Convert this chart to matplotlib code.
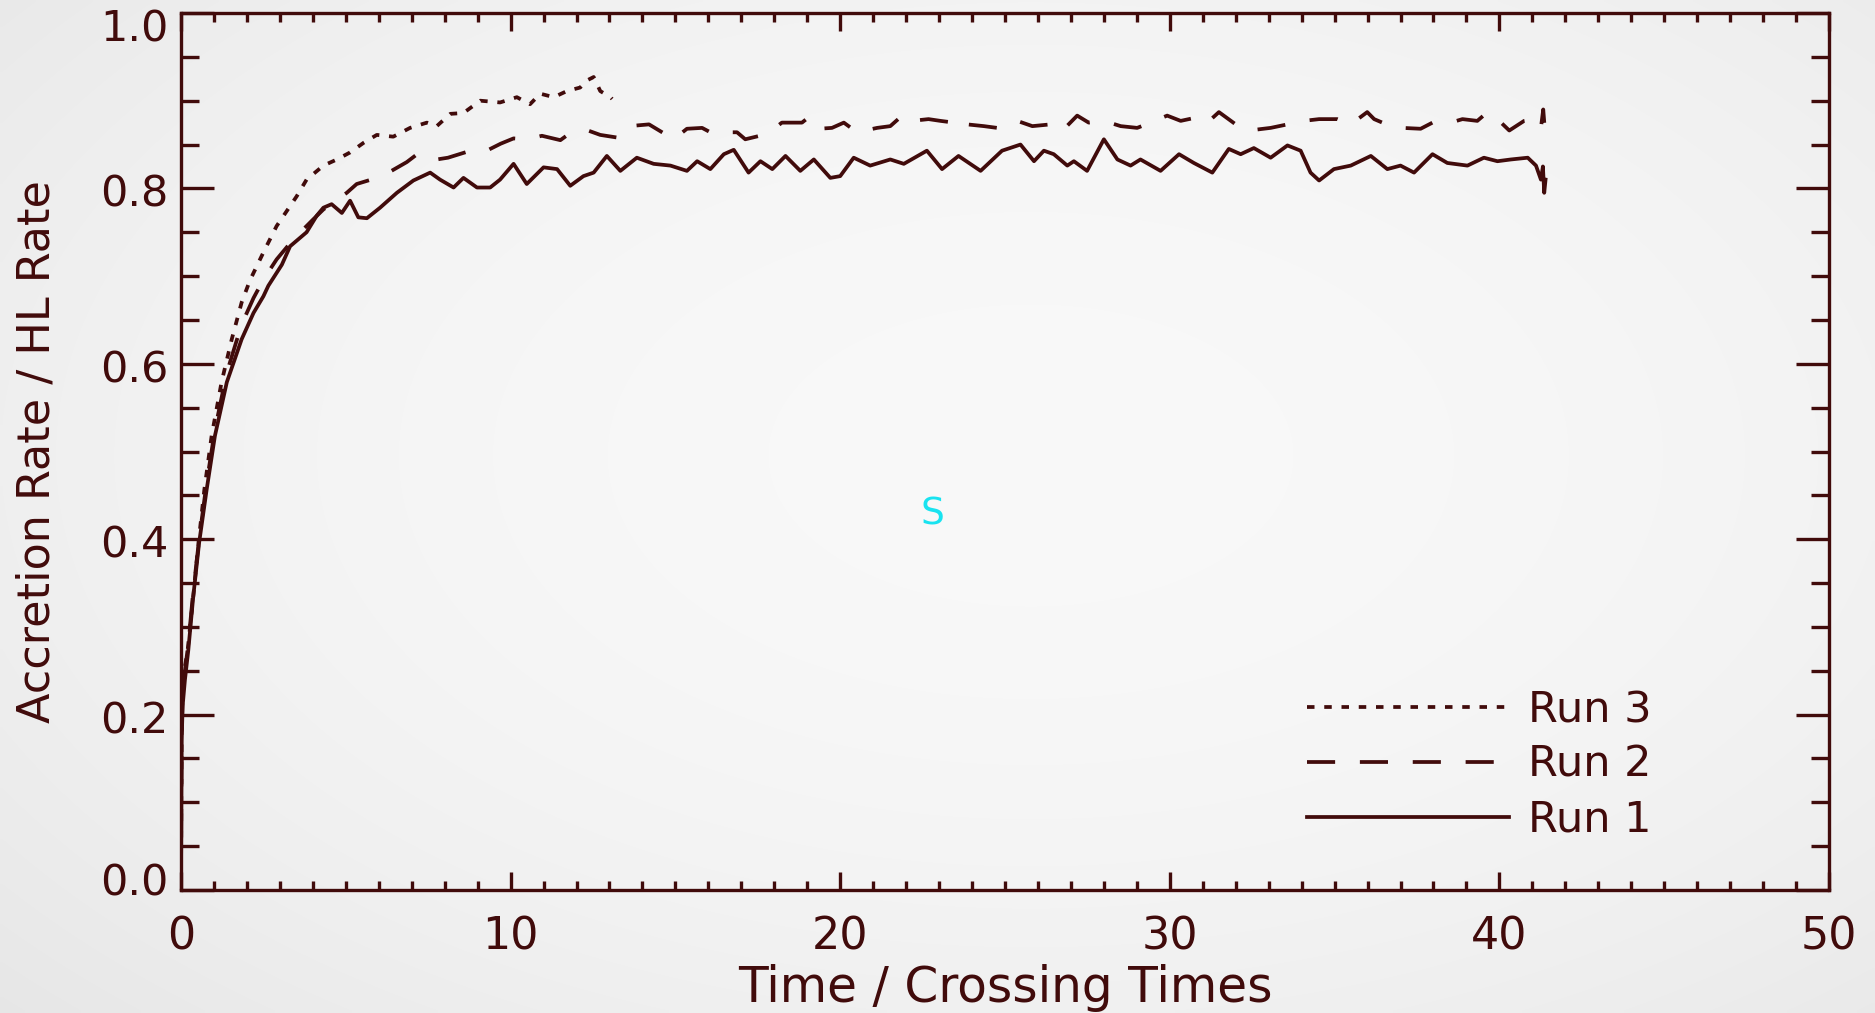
import numpy as np
import matplotlib
matplotlib.use("Agg")
import matplotlib.pyplot as plt
import matplotlib.transforms as mtransforms

# ---------------- data ----------------
run1_t = [0.0, 0.01, 0.02, 0.05, 0.12, 0.22, 0.37, 0.55, 0.78, 1.03, 1.39, 1.84, 2.2, 2.5,
          2.65, 3.06, 3.31, 3.81, 4.12, 4.32, 4.57, 4.88, 5.13, 5.38, 5.64, 6.04, 6.55,
          7.05, 7.56, 7.86, 8.27, 8.57, 8.98, 9.38, 9.68, 10.09, 10.49, 11.0, 11.41, 11.81,
          12.21, 12.52, 12.92, 13.33, 13.83, 14.34, 14.85, 15.35, 15.66, 16.06, 16.47,
          16.77, 17.22, 17.58, 17.94, 18.34, 18.79, 19.2, 19.7, 20.0, 20.41, 20.91, 21.52,
          21.93, 22.63, 23.09, 23.59, 24.26, 24.91, 25.47, 25.88, 26.18, 26.48, 26.89,
          27.09, 27.49, 28.0, 28.41, 28.81, 29.11, 29.72, 30.28, 30.73, 31.29, 31.79,
          32.15, 32.55, 33.06, 33.57, 33.97, 34.27, 34.53, 34.98, 35.49, 36.1, 36.6, 37.0,
          37.41, 37.97, 38.42, 39.03, 39.53, 39.94, 40.35, 40.86, 41.11, 41.26, 41.32,
          41.36, 41.4]
run1_y = [0.0, 0.10, 0.17, 0.21, 0.24, 0.273, 0.334, 0.396, 0.457, 0.518, 0.579, 0.628, 0.658,
          0.677, 0.689, 0.713, 0.734, 0.750, 0.769, 0.778, 0.782, 0.772, 0.786, 0.767, 0.766,
          0.778, 0.795, 0.809, 0.818, 0.810, 0.801, 0.812, 0.801, 0.801, 0.810, 0.828, 0.805,
          0.824, 0.822, 0.803, 0.814, 0.818, 0.837, 0.820, 0.835, 0.828, 0.826, 0.820, 0.831,
          0.822, 0.839, 0.844, 0.818, 0.831, 0.822, 0.837, 0.820, 0.833, 0.812, 0.814, 0.835,
          0.826, 0.833, 0.828, 0.843, 0.822, 0.837, 0.820, 0.843, 0.850, 0.831, 0.843, 0.839,
          0.826, 0.831, 0.820, 0.856, 0.833, 0.826, 0.833, 0.820, 0.839, 0.829, 0.818, 0.845,
          0.839, 0.846, 0.835, 0.849, 0.843, 0.818, 0.809, 0.822, 0.826, 0.837, 0.822, 0.826,
          0.818, 0.839, 0.829, 0.826, 0.835, 0.831, 0.833, 0.835, 0.826, 0.810, 0.825, 0.795,
          0.81]

run2_t = [0.0, 0.01, 0.02, 0.05, 0.12, 0.22, 0.37, 0.55, 0.78, 1.03, 1.39, 1.84, 2.2, 2.5,
          2.9, 3.41, 4.02, 4.32, 5.03, 5.33, 5.94, 6.34, 6.85, 7.2, 7.76, 8.1, 8.7, 9.17,
          9.7, 10.09, 10.5, 10.95, 11.51, 11.84, 12.35, 12.72, 13.23, 13.6, 14.2, 14.95,
          15.35, 15.81, 16.16, 16.6, 16.87, 17.12, 17.78, 18.23, 18.84, 19.04, 19.35, 19.75,
          20.11, 20.51, 21.12, 21.52, 21.88, 22.18, 22.68, 23.04, 23.45, 23.65, 23.85,
          24.36, 24.76, 25.37, 25.83, 26.38, 26.72, 27.19, 27.54, 28.0, 28.51, 29.01, 29.42,
          29.92, 30.33, 30.83, 31.14, 31.49, 32.0, 32.4, 33.06, 33.57, 34.07, 34.53, 35.08,
          35.49, 35.99, 36.2, 36.7, 37.05, 37.61, 37.97, 38.52, 38.88, 39.33, 39.64, 39.94,
          40.3, 40.75, 41.06, 41.26, 41.33, 41.38]
run2_y = [0.0, 0.10, 0.18, 0.22, 0.25, 0.28, 0.34, 0.40, 0.465, 0.525, 0.59, 0.645, 0.675,
          0.696, 0.719, 0.742, 0.765, 0.776, 0.795, 0.805, 0.812, 0.819, 0.830, 0.840, 0.833,
          0.835, 0.842, 0.841, 0.851, 0.857, 0.856, 0.860, 0.855, 0.864, 0.866, 0.861, 0.858,
          0.871, 0.873, 0.856, 0.868, 0.869, 0.862, 0.864, 0.864, 0.856, 0.862, 0.875, 0.875,
          0.881, 0.868, 0.869, 0.875, 0.864, 0.869, 0.871, 0.883, 0.877, 0.879, 0.877, 0.875,
          0.868, 0.873, 0.871, 0.869, 0.877, 0.871, 0.873, 0.865, 0.883, 0.875, 0.877, 0.871,
          0.869, 0.875, 0.883, 0.877, 0.881, 0.875, 0.887, 0.873, 0.866, 0.869, 0.873, 0.877,
          0.879, 0.879, 0.873, 0.887, 0.879, 0.871, 0.869, 0.868, 0.875, 0.875, 0.879, 0.877,
          0.887, 0.879, 0.866, 0.877, 0.879, 0.869, 0.890, 0.866]

run3_t = [0.0, 0.01, 0.02, 0.05, 0.12, 0.2, 0.37, 0.53, 0.71, 0.93, 1.23, 1.54, 1.84, 2.09,
          2.5, 2.9, 3.51, 3.81, 4.32, 4.73, 5.13, 5.54, 5.94, 6.44, 6.95, 7.46, 7.76, 8.17,
          8.57, 9.08, 9.68, 10.19, 10.59, 10.9, 11.31, 11.71, 12.11, 12.31, 12.52, 12.72,
          13.03, 13.08]
run3_y = [0.0, 0.11, 0.19, 0.23, 0.255, 0.273, 0.334, 0.396, 0.457, 0.518, 0.579, 0.628,
          0.670, 0.695, 0.727, 0.757, 0.791, 0.810, 0.826, 0.833, 0.841, 0.852, 0.861, 0.859,
          0.869, 0.875, 0.871, 0.885, 0.886, 0.900, 0.898, 0.904, 0.896, 0.908, 0.904, 0.911,
          0.915, 0.923, 0.927, 0.911, 0.904, 0.902]

labels = ["Run 3", "Run 2", "Run 1"]
xticks = [0, 10, 20, 30, 40, 50]
yticks = [0.0, 0.2, 0.4, 0.6, 0.8, 1.0]
xlabel = "Time / Crossing Times"
ylabel = "Accretion Rate / HL Rate"
note = "S"

# ---------------- style ----------------
INK = "#410b0b"
W, H, DPI = 1875, 1013, 100
FONT = ["DejaVu Sans"]

fig = plt.figure(figsize=(W / DPI, H / DPI), dpi=DPI)
fig.patch.set_facecolor("#eeeeee")

# soft vignette background
bg = fig.add_axes([0, 0, 1, 1], zorder=-10)
yy, xx = np.mgrid[0:1:200j, 0:1:370j]
r = np.sqrt(((xx - 0.55) / 0.75) ** 2 + ((yy - 0.45) / 0.8) ** 2)
shade = 0.975 - 0.07 * r ** 2
bg.imshow(np.dstack([shade] * 3), extent=[0, 1, 0, 1], aspect="auto",
          interpolation="bilinear", vmin=0, vmax=1)
bg.set_axis_off()

ax = fig.add_axes([181 / W, 1 - 890 / H, (1829 - 181) / W, (890 - 13) / H])
ax.patch.set_alpha(0)

lw = 2.7
l3, = ax.plot(run3_t, run3_y, color=INK, lw=lw, dashes=(2.0, 2.6), label=labels[0])
l2, = ax.plot(run2_t, run2_y, color=INK, lw=lw, dashes=(7.5, 6.6), label=labels[1])
l1, = ax.plot(run1_t, run1_y, color=INK, lw=lw, label=labels[2])

ax.set_xlim(0, 50)
ax.set_ylim(0, 1.0)
ax.set_xticks(xticks)
ax.set_yticks(yticks)
ax.set_xticks(np.arange(0, 51, 1), minor=True)
ax.set_yticks(np.arange(0, 1.001, 0.05), minor=True)
ax.set_xticklabels([str(v) for v in xticks])
ax.set_yticklabels([f"{v:.1f}" for v in yticks])

for s in ax.spines.values():
    s.set_color(INK)
    s.set_linewidth(2.4)

ax.tick_params(axis="both", which="both", direction="in", colors=INK,
               top=True, right=True, width=2.4)
ax.tick_params(axis="x", which="major", length=13, pad=18)
ax.tick_params(axis="x", which="minor", length=6.5)
ax.tick_params(axis="y", which="major", length=24, pad=9)
ax.tick_params(axis="y", which="minor", length=13)

# y tick labels: end labels pulled inward as in the reference
shifts_px = {0: 11, len(yticks) - 1: -12}
for i, t in enumerate(ax.get_yticklabels()):
    t.set_fontsize(31)
    t.set_family(FONT)
    t.set_color(INK)
    dy = shifts_px.get(i, -2) / DPI
    t.set_transform(t.get_transform() +
                    mtransforms.ScaledTranslation(0, dy, fig.dpi_scale_trans))
for t in ax.get_xticklabels():
    t.set_fontsize(32)
    t.set_family(FONT)
    t.set_color(INK)

ax.set_xlabel(xlabel, fontsize=35, color=INK, family=FONT, labelpad=4)
ax.set_ylabel(ylabel, fontsize=32, color=INK, family=FONT, labelpad=30)

ax.text(22.8, 0.428, note, color="#19e3f0", fontsize=27, ha="center", va="center",
        family=FONT)

leg = ax.legend(handles=[l3, l2, l1], loc="lower left", bbox_to_anchor=(0.683, 0.056),
                frameon=False, prop={"family": FONT, "size": 31}, handlelength=4.7,
                handletextpad=0.45, labelspacing=0.3, borderpad=0, borderaxespad=0)
for t in leg.get_texts():
    t.set_color(INK)

fig.savefig("out.png", dpi=DPI, facecolor=fig.get_facecolor())
